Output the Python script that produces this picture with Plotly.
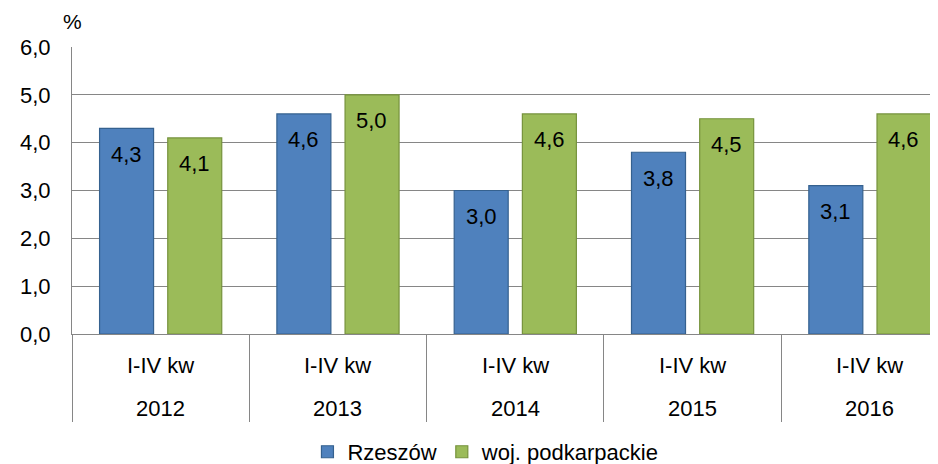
import plotly.graph_objects as go

years = ["2012", "2013", "2014", "2015", "2016"]
period = ["I-IV kw"] * 5
rzeszow = [4.3, 4.6, 3.0, 3.8, 3.1]
podkarpackie = [4.1, 5.0, 4.6, 4.5, 4.6]
series_names = ["Rzeszów", "woj. podkarpackie"]
y_ticks = [0, 1, 2, 3, 4, 5, 6]

FONT = "Liberation Sans, Arial, sans-serif"
FS = 22
GRID = "#868686"

def fmt(v):
    return f"{v:.1f}".replace(".", ",")

fig = go.Figure()
fig.add_trace(go.Bar(
    x=years, y=rzeszow, name=series_names[0],
    marker=dict(color="#4F81BD", line=dict(color="#35618F", width=1.2)),
))
fig.add_trace(go.Bar(
    x=years, y=podkarpackie, name=series_names[1],
    marker=dict(color="#9BBB59", line=dict(color="#76923C", width=1.2)),
))

annotations = []
# value labels inside bars near top (x given as category index)
for ti, vals in enumerate([rzeszow, podkarpackie]):
    for i, v in enumerate(vals):
        annotations.append(dict(
            x=i, y=v, xref="x", yref="y",
            text=fmt(v), showarrow=False,
            xshift=(-34 if ti == 0 else 34), yshift=-26,
            font=dict(family=FONT, size=FS, color="black"),
        ))
# two-level category labels
for i in range(len(years)):
    annotations.append(dict(
        x=i, y=0, xref="x", yref="paper", yshift=-31,
        text=period[i], showarrow=False, yanchor="middle",
        font=dict(family=FONT, size=FS, color="black"),
    ))
    annotations.append(dict(
        x=i, y=0, xref="x", yref="paper", yshift=-74,
        text=years[i], showarrow=False, yanchor="middle",
        font=dict(family=FONT, size=FS, color="black"),
    ))
annotations.append(dict(
    x=0, y=1, xref="paper", yref="paper", xshift=0, yshift=26,
    text="%", showarrow=False, xanchor="center", yanchor="middle",
    font=dict(family=FONT, size=FS - 1, color="black"),
))

# the page body has an 8px margin, so the figure is 8px smaller and margins compensate
fig.update_layout(
    width=930, height=456,
    margin=dict(l=64, r=0, t=39, b=130, autoexpand=False),
    paper_bgcolor="white", plot_bgcolor="white",
    separators=", ",
    barmode="group", bargap=0.231, bargroupgap=0.208,
    font=dict(family=FONT, size=FS, color="black"),
    showlegend=True,
    legend=dict(orientation="h", x=0.478, xanchor="center", y=-0.411, yanchor="middle",
                font=dict(family=FONT, size=FS, color="black"),
                itemwidth=30, traceorder="normal"),
    annotations=annotations,
    xaxis=dict(
        type="category",
        range=[-0.5, 4.384],
        showline=True, linecolor=GRID, linewidth=1,
        ticks="outside", tickson="boundaries", ticklen=87,
        tickcolor=GRID, tickwidth=1,
        showticklabels=False, showgrid=False, automargin=False,
    ),
    yaxis=dict(
        range=[0, 6], tickvals=y_ticks, tickformat=".1f",
        showgrid=True, gridcolor=GRID, gridwidth=1,
        showline=True, linecolor=GRID, linewidth=1,
        zeroline=False, ticks="", ticklabelstandoff=16,
        tickfont=dict(family=FONT, size=FS, color="black"),
        automargin=False,
    ),
)

fig.write_html("out.html")
